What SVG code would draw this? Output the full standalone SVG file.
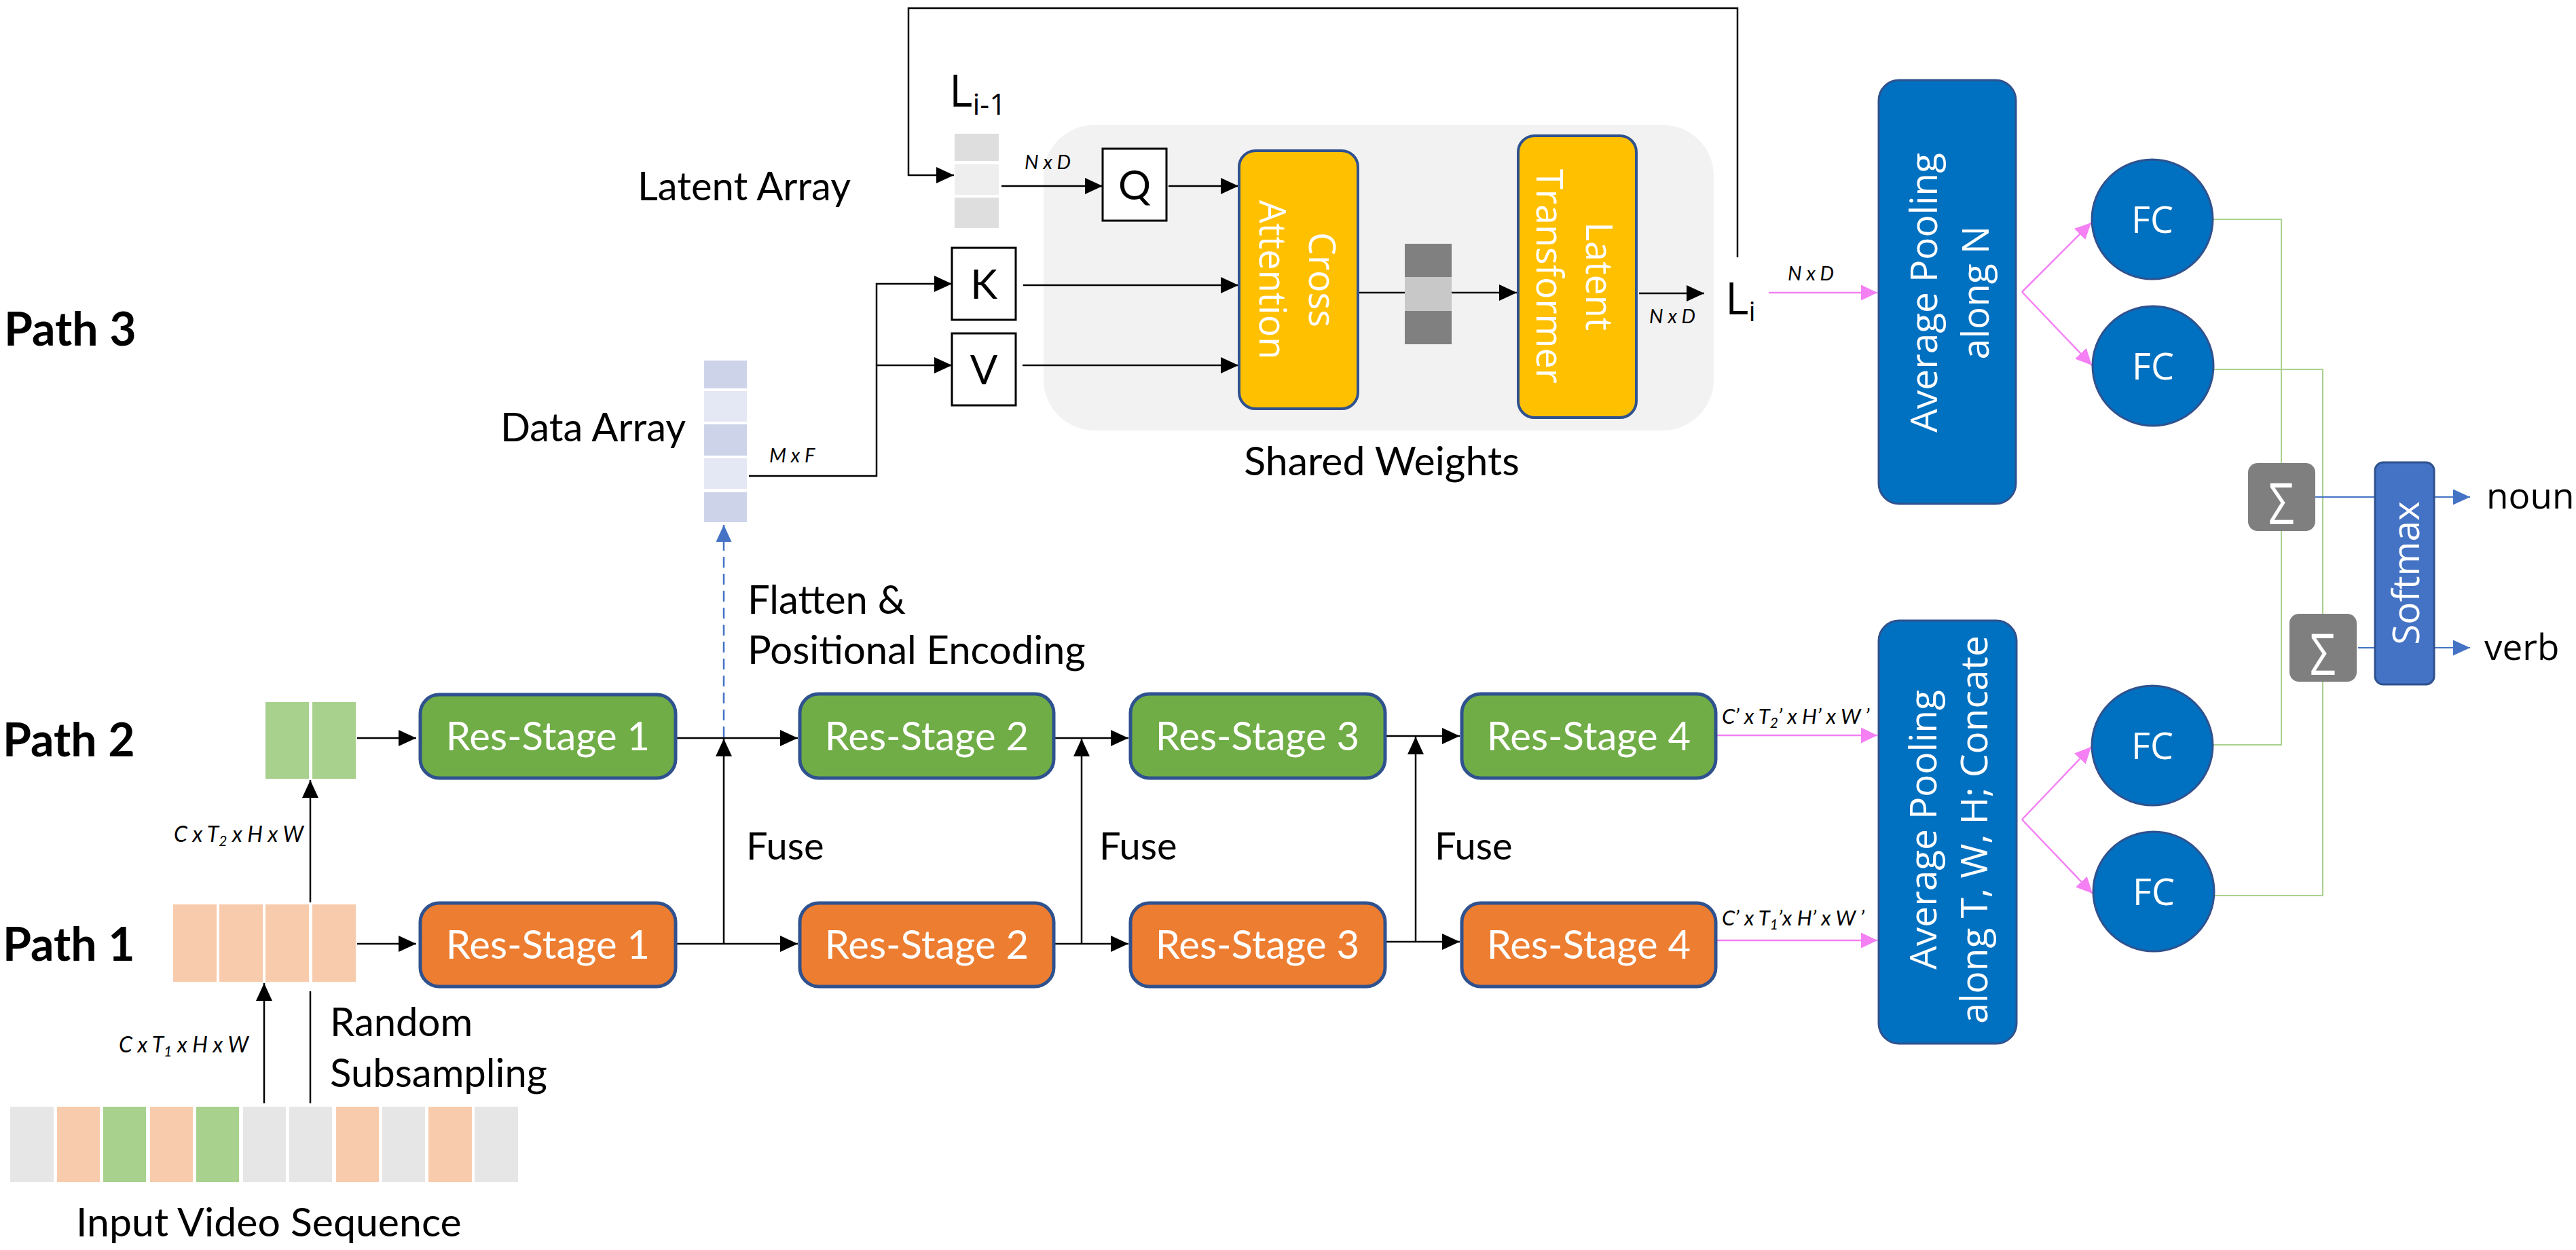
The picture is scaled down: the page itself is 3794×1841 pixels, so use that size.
<svg xmlns="http://www.w3.org/2000/svg" width="3794" height="1841" viewBox="0 0 3794 1841">
<style>
text{font-family:Lato,"Open Sans",sans-serif;fill:#000}
.lbl{font-size:58px}
.path{font-size:68px;font-weight:700}
.it{font-size:29px;font-style:italic}
.itb{font-size:31px;font-style:italic}
.rs{font-size:58px;fill:#fff;text-anchor:middle}
.seg{font-family:"Open Sans",sans-serif}
.wh{fill:#fff}
.mid{text-anchor:middle}
.conn{stroke:#000;stroke-width:2.5;fill:none}
.pink{stroke:#f480f4;stroke-width:2.5;fill:none}
.grn{stroke:#a9d18e;stroke-width:2;fill:none}
.blu{stroke:#4472c4;stroke-width:2.2;fill:none}
.dash{stroke:#4472c4;stroke-width:2.5;fill:none;stroke-dasharray:16 9}
.green{fill:#70ad47;stroke:#2f528f;stroke-width:5}
.orange{fill:#ed7d31;stroke:#2f528f;stroke-width:5}
.yel{fill:#ffc000;stroke:#2f528f;stroke-width:4}
.pool{fill:#0070c0;stroke:#2f528f;stroke-width:3}
.box{fill:#fff;stroke:#000;stroke-width:3}
.cg{fill:#e6e6e6}.co{fill:#f8cbad}.cgr{fill:#a9d18e}
.dd{fill:#cdd4ea}.dl{fill:#e4e8f4}
</style>
<defs>
<marker id="ah" viewBox="0 0 26 24" refX="26" refY="12" markerWidth="26" markerHeight="24" markerUnits="userSpaceOnUse" orient="auto"><path d="M0,0 L26,12 L0,24 z" fill="#000"/></marker>
<marker id="ahp" viewBox="0 0 24 23" refX="24" refY="11.5" markerWidth="24" markerHeight="23" markerUnits="userSpaceOnUse" orient="auto"><path d="M0,0 L24,11.5 L0,23 z" fill="#f480f4"/></marker>
<marker id="ahb" viewBox="0 0 25 23" refX="25" refY="11.5" markerWidth="25" markerHeight="23" markerUnits="userSpaceOnUse" orient="auto"><path d="M0,0 L25,11.5 L0,23 z" fill="#4472c4"/></marker>
</defs>
<rect width="3794" height="1841" fill="#fff"/>

<g id="shared-weights">
<rect x="1537" y="184" width="987" height="450" rx="75" fill="#f2f2f2"/>
<text class="lbl mid" x="2035" y="700" style="font-size:59px">Shared Weights</text>
</g>

<g id="connectors">
<path class="conn" d="M2559,379 V12 H1338 V258 H1405" marker-end="url(#ah)"/>
<path class="conn" d="M1475,274 H1624" marker-end="url(#ah)"/>
<path class="conn" d="M1721,274 H1824" marker-end="url(#ah)"/>
<path class="conn" d="M1103,701 H1291 V418 H1402" marker-end="url(#ah)"/>
<path class="conn" d="M1291,538 H1402" marker-end="url(#ah)"/>
<path class="conn" d="M1507,420 H1824" marker-end="url(#ah)"/>
<path class="conn" d="M1506,538 H1824" marker-end="url(#ah)"/>
<path class="conn" d="M2002,431 H2069"/>
<path class="conn" d="M2138,431 H2234" marker-end="url(#ah)"/>
<path class="conn" d="M2414,432 H2510" marker-end="url(#ah)"/>
<path class="conn" d="M526,1087 H613" marker-end="url(#ah)"/>
<path class="conn" d="M526,1390 H613" marker-end="url(#ah)"/>
<path class="conn" d="M457,1329 V1149" marker-end="url(#ah)"/>
<path class="conn" d="M389,1625 V1448" marker-end="url(#ah)"/>
<path class="conn" d="M457,1625 V1460"/>
<path class="conn" d="M995,1087 H1175" marker-end="url(#ah)"/>
<path class="conn" d="M995,1390 H1175" marker-end="url(#ah)"/>
<path class="conn" d="M1066,1390 V1088" marker-end="url(#ah)"/>
<path class="conn" d="M1552,1087 H1662" marker-end="url(#ah)"/>
<path class="conn" d="M1552,1390 H1662" marker-end="url(#ah)"/>
<path class="conn" d="M1593,1390 V1088" marker-end="url(#ah)"/>
<path class="conn" d="M2040,1084 H2150" marker-end="url(#ah)"/>
<path class="conn" d="M2040,1387 H2150" marker-end="url(#ah)"/>
<path class="conn" d="M2085,1387 V1085" marker-end="url(#ah)"/>
<path class="dash" d="M1066,1086 V773" marker-end="url(#ahb)"/>
<path class="pink" d="M2605,431 H2765" marker-end="url(#ahp)"/>
<path class="pink" d="M2528,1083 H2765" marker-end="url(#ahp)"/>
<path class="pink" d="M2528,1385 H2765" marker-end="url(#ahp)"/>
<path class="pink" d="M2978,430 L3080,328" marker-end="url(#ahp)"/>
<path class="pink" d="M2978,430 L3081,538" marker-end="url(#ahp)"/>
<path class="pink" d="M2978,1207 L3080,1100" marker-end="url(#ahp)"/>
<path class="pink" d="M2978,1207 L3082,1316" marker-end="url(#ahp)"/>
<path class="grn" d="M3259,323 H3360 V1097 H3259"/>
<path class="grn" d="M3260,544 H3421 V1319 H3262"/>
<path class="blu" d="M3405,732 H3498"/>
<path class="blu" d="M3585,732 H3638" marker-end="url(#ahb)"/>
<path class="blu" d="M3473,954 H3498"/>
<path class="blu" d="M3585,954 H3638" marker-end="url(#ahb)"/>
</g>

<g id="path-labels">
<text class="path" x="6" y="509">Path 3</text>
<text class="path" x="4" y="1114">Path 2</text>
<text class="path" x="4" y="1415">Path 1</text>
</g>

<g id="latent-array">
<rect x="1406" y="197" width="65" height="40" fill="#dedede"/>
<rect x="1406" y="242" width="65" height="45" fill="#eeeeee"/>
<rect x="1406" y="291" width="65" height="45" fill="#dedede"/>
<text class="lbl" x="939" y="295">Latent Array</text>
<text class="seg" x="1398" y="157" style="font-size:66px">L<tspan dy="12" style="font-size:43px">i-1</tspan></text>
<text class="it" x="1509" y="249">N x D</text>
</g>

<g id="data-array">
<rect class="dd" x="1037" y="531" width="63" height="41"/>
<rect class="dl" x="1037" y="576" width="63" height="45"/>
<rect class="dd" x="1037" y="625" width="63" height="46"/>
<rect class="dl" x="1037" y="675" width="63" height="45"/>
<rect class="dd" x="1037" y="725" width="63" height="44"/>
<text class="lbl" x="737" y="650">Data Array</text>
<text class="it" x="1133" y="681">M x F</text>
</g>

<g id="q"><rect class="box" x="1624" y="219" width="94" height="106"/><text class="mid" x="1671" y="294" style="font-size:60px">Q</text></g>
<g id="k"><rect class="box" x="1402" y="365" width="94" height="106"/><text class="mid" x="1449" y="440" style="font-size:60px">K</text></g>
<g id="v"><rect class="box" x="1402" y="491" width="94" height="106"/><text class="mid" x="1449" y="566" style="font-size:60px">V</text></g>

<g id="cross-attention">
<rect class="yel" x="1825" y="222" width="175" height="380" rx="24"/>
<text class="seg wh mid" transform="translate(1912 412) rotate(90)" style="font-size:54px"><tspan x="0" y="-16">Cross</tspan><tspan x="0" y="57">Attention</tspan></text>
</g>

<g id="bar">
<rect x="2069" y="359" width="69" height="49" fill="#808080"/>
<rect x="2069" y="408" width="69" height="50" fill="#c8c8c8"/>
<rect x="2069" y="458" width="69" height="49" fill="#808080"/>
</g>

<g id="latent-transformer">
<rect class="yel" x="2236" y="200" width="174" height="415" rx="24"/>
<text class="seg wh mid" transform="translate(2323 407) rotate(90)" style="font-size:54px"><tspan x="0" y="-13">Latent</tspan><tspan x="0" y="60">Transformer</tspan></text>
<text class="it" x="2429" y="476">N x D</text>
</g>

<g id="li">
<text class="seg" x="2541" y="463" style="font-size:66px">L<tspan dy="10" style="font-size:40px">i</tspan></text>
<text class="it" x="2633" y="413">N x D</text>
</g>

<g id="flatten-label">
<text class="lbl" x="1101" y="904">Flatten &amp;</text>
<text class="lbl" x="1101" y="978">Positional Encoding</text>
</g>

<g id="path2-array">
<rect class="cgr" x="391" y="1034" width="64" height="113"/>
<rect class="cgr" x="460" y="1034" width="64" height="113"/>
<text class="itb" x="256" y="1240" style="font-size:32px">C x T<tspan dy="6" style="font-size:21px">2</tspan><tspan dy="-6"> x H x W</tspan></text>
</g>

<g id="path1-array">
<rect class="co" x="255" y="1332" width="64" height="114"/>
<rect class="co" x="323" y="1332" width="64" height="114"/>
<rect class="co" x="391" y="1332" width="64" height="114"/>
<rect class="co" x="460" y="1332" width="64" height="114"/>
<text class="itb" x="175" y="1550" style="font-size:32px">C x T<tspan dy="6" style="font-size:21px">1</tspan><tspan dy="-6"> x H x W</tspan></text>
</g>

<g id="input-sequence">
<rect class="cg" x="15" y="1630" width="64" height="111"/>
<rect class="co" x="84" y="1630" width="63" height="111"/>
<rect class="cgr" x="152" y="1630" width="63" height="111"/>
<rect class="co" x="221" y="1630" width="63" height="111"/>
<rect class="cgr" x="289" y="1630" width="63" height="111"/>
<rect class="cg" x="358" y="1630" width="63" height="111"/>
<rect class="cg" x="426" y="1630" width="63" height="111"/>
<rect class="co" x="495" y="1630" width="63" height="111"/>
<rect class="cg" x="563" y="1630" width="63" height="111"/>
<rect class="co" x="631" y="1630" width="64" height="111"/>
<rect class="cg" x="699" y="1630" width="64" height="111"/>
<text class="lbl" x="112" y="1821" style="font-size:59px">Input Video Sequence</text>
<text class="lbl" x="486" y="1526">Random</text>
<text class="lbl" x="486" y="1601">Subsampling</text>
</g>

<g id="res-stage-2-1"><rect class="green" x="619" y="1023" width="376" height="123" rx="28"/><text class="rs" x="807" y="1105">Res-Stage 1</text></g>
<g id="res-stage-2-2"><rect class="green" x="1178" y="1022" width="374" height="124" rx="28"/><text class="rs" x="1365" y="1105">Res-Stage 2</text></g>
<g id="res-stage-2-3"><rect class="green" x="1665" y="1022" width="375" height="124" rx="28"/><text class="rs" x="1852" y="1105">Res-Stage 3</text></g>
<g id="res-stage-2-4"><rect class="green" x="2153" y="1022" width="374" height="124" rx="28"/><text class="rs" x="2340" y="1105">Res-Stage 4</text></g>
<g id="res-stage-1-1"><rect class="orange" x="619" y="1330" width="376" height="123" rx="28"/><text class="rs" x="807" y="1412">Res-Stage 1</text></g>
<g id="res-stage-1-2"><rect class="orange" x="1178" y="1330" width="374" height="123" rx="28"/><text class="rs" x="1365" y="1412">Res-Stage 2</text></g>
<g id="res-stage-1-3"><rect class="orange" x="1665" y="1330" width="375" height="123" rx="28"/><text class="rs" x="1852" y="1412">Res-Stage 3</text></g>
<g id="res-stage-1-4"><rect class="orange" x="2153" y="1330" width="374" height="123" rx="28"/><text class="rs" x="2340" y="1412">Res-Stage 4</text></g>

<g id="fuse-labels">
<text class="lbl" x="1099" y="1266" style="font-size:56px">Fuse</text>
<text class="lbl" x="1619" y="1266" style="font-size:56px">Fuse</text>
<text class="lbl" x="2113" y="1266" style="font-size:56px">Fuse</text>
</g>

<g id="dim-labels">
<text class="itb" x="2536" y="1066">C’ x T<tspan dy="6" style="font-size:21px">2</tspan><tspan dy="-6">’ x H’ x W ’</tspan></text>
<text class="itb" x="2536" y="1363">C’ x T<tspan dy="6" style="font-size:21px">1</tspan><tspan dy="-6">’x H’ x W ’</tspan></text>
</g>

<g id="pool-n">
<rect class="pool" x="2767" y="118" width="202" height="624" rx="30"/>
<text class="seg wh mid" transform="translate(2868 431) rotate(-90)" style="font-size:55px"><tspan x="0" y="-15">Average Pooling</tspan><tspan x="0" y="61">along N</tspan></text>
</g>

<g id="pool-twh">
<rect class="pool" x="2767" y="914" width="203" height="623" rx="30"/>
<text class="seg wh mid" transform="translate(2869 1222) rotate(-90)" style="font-size:55px"><tspan x="0" y="-17">Average Pooling</tspan><tspan x="0" y="58">along T, W, H; Concate</tspan></text>
</g>

<g id="fc1"><ellipse class="pool" cx="3170" cy="323" rx="89" ry="88"/><text class="seg wh mid" x="3170" y="343" style="font-size:54px">FC</text></g>
<g id="fc2"><ellipse class="pool" cx="3171" cy="539" rx="89" ry="88"/><text class="seg wh mid" x="3171" y="559" style="font-size:54px">FC</text></g>
<g id="fc3"><ellipse class="pool" cx="3170" cy="1098" rx="89" ry="88"/><text class="seg wh mid" x="3170" y="1118" style="font-size:54px">FC</text></g>
<g id="fc4"><ellipse class="pool" cx="3172" cy="1313" rx="89" ry="88"/><text class="seg wh mid" x="3172" y="1333" style="font-size:54px">FC</text></g>

<g id="sum1"><rect x="3311" y="682" width="99" height="100" rx="14" fill="#7f7f7f"/><text class="seg wh mid" x="3360" y="772" style="font-size:84px" textLength="38" lengthAdjust="spacingAndGlyphs">Σ</text></g>
<g id="sum2"><rect x="3372" y="904" width="99" height="100" rx="14" fill="#7f7f7f"/><text class="seg wh mid" x="3421" y="994" style="font-size:84px" textLength="38" lengthAdjust="spacingAndGlyphs">Σ</text></g>

<g id="softmax">
<rect x="3498" y="681" width="87" height="327" rx="12" fill="#4472c4" stroke="#2f528f" stroke-width="3"/>
<text class="seg wh mid" transform="translate(3541 844) rotate(-90)" x="0" y="22" style="font-size:55px">Softmax</text>
</g>

<g id="outputs">
<text class="seg" x="3662" y="749" style="font-size:53px">noun</text>
<text class="seg" x="3659" y="972" style="font-size:53px">verb</text>
</g>
</svg>
